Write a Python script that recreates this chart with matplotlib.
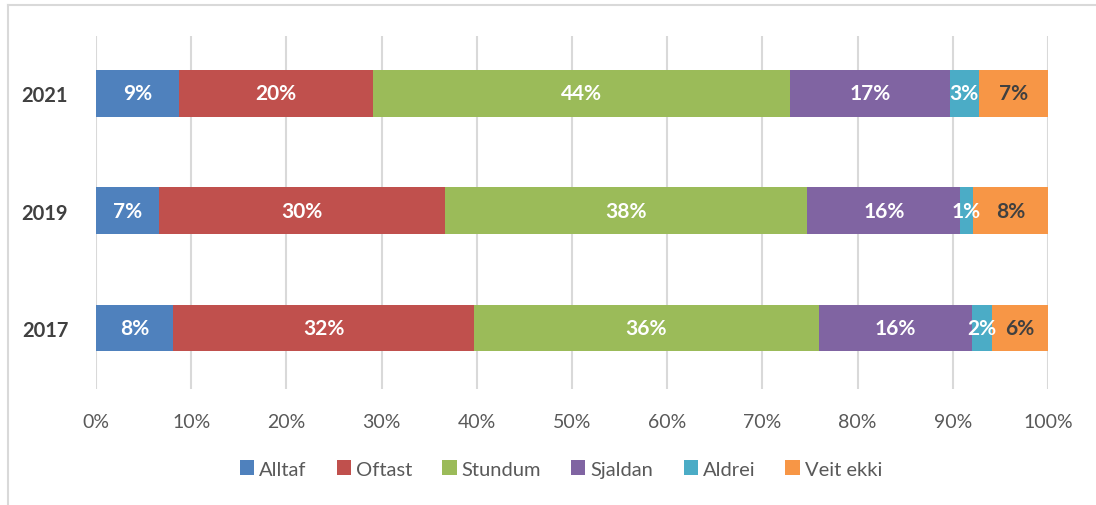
import matplotlib.pyplot as plt
from matplotlib.lines import Line2D
import numpy as np

years = ['2017', '2019', '2021']
categories = ['Alltaf', 'Oftast', 'Stundum', 'Sjaldan', 'Aldrei', 'Veit ekki']
# percent share per category, rows follow `years`
values = {
    'Alltaf':    [8.1, 6.6, 8.7],
    'Oftast':    [31.6, 30.1, 20.4],
    'Stundum':   [36.2, 38.0, 43.8],
    'Sjaldan':   [16.1, 16.1, 16.8],
    'Aldrei':    [2.1, 1.3, 3.0],
    'Veit ekki': [5.9, 7.9, 7.3],
}
colors = ['#4F81BD', '#C0504D', '#9BBB59', '#8064A2', '#4BACC6', '#F79646']
label_colors = ['white', 'white', 'white', 'white', 'white', '#404040']

plt.rcParams['font.family'] = ['Lato', 'DejaVu Sans']

fig = plt.figure(figsize=(10.96, 5.06), dpi=100)
ax = fig.add_axes([96 / 1096, 1 - 390 / 506, (1048 - 96) / 1096, (390 - 37) / 506])

y = np.arange(len(years))
left = np.zeros(len(years))
for cat, col, lcol in zip(categories, colors, label_colors):
    vals = np.array(values[cat])
    ax.barh(y, vals, left=left, height=0.4, color=col, label=cat, zorder=3)
    for yi, v, l in zip(y, vals, left):
        ax.text(l + v / 2, yi, f'{round(v):.0f}%', ha='center', va='center',
                color=lcol, fontsize=15, fontweight='bold', zorder=4)
    left += vals

ax.set_xlim(0, 100)
ax.set_ylim(-0.52, 2.49)
ax.set_xticks(np.arange(0, 101, 10))
ax.set_xticklabels([f'{t}%' for t in range(0, 101, 10)])
ax.set_yticks(y)
ax.set_yticklabels(years, fontweight='bold', color='#404040', fontsize=14.5)
ax.tick_params(axis='x', length=0, pad=17, labelsize=14, labelcolor='#595959')
ax.tick_params(axis='y', length=0, pad=20)
ax.grid(axis='x', color='#d9d9d9', linewidth=1.5, zorder=0)
for s in ax.spines.values():
    s.set_visible(False)

fig.legend(loc='center', bbox_to_anchor=(561 / 1096, 1 - 470 / 506), ncol=6,
           frameon=False, fontsize=14.5, handlelength=0.7, handleheight=0.7,
           handletextpad=0.25, columnspacing=1.5, labelcolor='#595959')

# chart border (left and top only visible)
fig.add_artist(Line2D([8 / 1096, 8 / 1096], [0, 1 - 6 / 506], color='#d9d9d9', lw=1.5,
                      transform=fig.transFigure))
fig.add_artist(Line2D([8 / 1096, 1], [1 - 6 / 506, 1 - 6 / 506], color='#d9d9d9', lw=1.5,
                      transform=fig.transFigure))

fig.savefig('out.png', dpi=100)
